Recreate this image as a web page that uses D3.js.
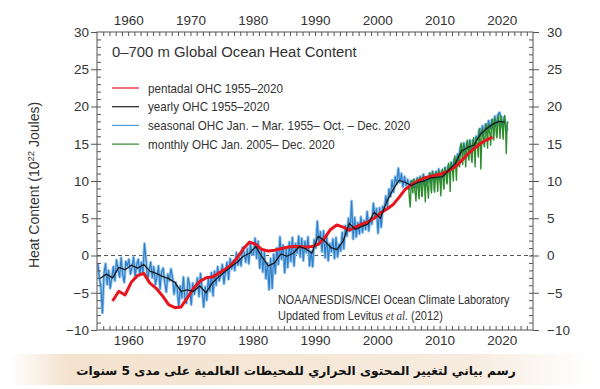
<!DOCTYPE html>
<html>
<head>
<meta charset="utf-8">
<script src="https://cdn.jsdelivr.net/npm/d3@7"></script>
<style>
  body{margin:0;background:#fff;}
  svg{display:block;}
  text{font-family:"Liberation Sans",Arial,sans-serif;fill:#333;}
</style>
</head>
<body>
<svg id="chart" width="600" height="389"></svg>
<script>
// pentadal OHC, centres 1957.5 .. 2018.5
var pentadal=[-6.1,-4.8,-5.3,-3.6,-2.7,-2.4,-3.7,-4.4,-5.4,-6.6,
	-7.0,-6.9,-5.7,-4.4,-3.5,-3.0,-2.9,-2.4,-1.9,-1.3,
	-0.3,0.9,1.8,1.5,0.8,0.6,0.7,0.9,1.1,1.2,
	1.2,1.1,1.2,1.5,2.3,3.5,4.1,3.8,3.4,3.8,
	4.2,4.5,5.0,5.7,6.2,6.8,7.8,8.9,9.5,10.0,
	10.4,10.6,10.8,11.0,11.4,11.9,12.7,13.6,14.3,15.0,
	15.5,15.9];
var pentadalStart=1957;

// yearly OHC 1955 .. 2020
var yearly=[-3.1,-2.5,-3.0,-1.6,-1.9,-1.3,-1.7,-1.2,-2.1,-2.4,
	-2.8,-3.1,-3.6,-4.8,-4.6,-4.8,-4.1,-5.0,-3.7,-2.9,
	-2.2,-1.5,-0.9,-0.1,0.3,1.2,-0.2,-1.4,-1.0,0.2,
	-0.1,0.3,1.2,0.9,0.3,2.6,2.0,1.1,0.8,1.9,
	4.3,3.5,3.9,4.2,5.8,5.0,7.2,8.8,10.1,9.8,
	9.4,9.8,10.0,10.4,10.5,10.6,11.5,12.3,14.0,14.5,
	14.8,16.2,17.0,17.6,18.0,17.9];
var yearlyStart=1955;

// seasonal OHC, one row of four quarters per year, 1955 .. 2020
var seasonal=[
	[-1.0,-2.9,-4.2,-7.7],[-2.4,-1.1,-3.9,-2.0],[-4.4,-3.0,-1.5,-3.4],[-0.6,-1.8,-2.9,-0.3],
	[-2.6,-3.6,-0.8,-1.4],[-0.5,-2.5,-1.6,-0.2],[-2.9,-1.2,-0.5,-2.6],[-0.9,-2.4,1.6,-0.6],
	[-3.3,-2.0,-0.9,-3.0],[-1.5,-3.9,-2.9,-1.4],[-4.5,-2.2,-1.7,-3.6],[-4.9,-2.5,-3.4,-1.8],
	[-2.9,-5.2,-3.6,-4.4],[-6.9,-4.1,-5.7,-2.9],[-5.9,-6.4,-3.0,-4.0],[-6.6,-3.7,-5.2,-4.3],
	[-3.0,-5.5,-2.4,-4.6],[-6.9,-4.2,-6.0,-3.0],[-4.8,-2.3,-5.4,-2.1],[-4.0,-1.5,-3.4,-2.6],
	[-1.2,-3.8,-2.1,-0.9],[-3.2,-0.4,-1.8,-0.7],[-2.0,0.4,-1.3,-0.3],[-1.4,1.1,0.3,-0.9],
	[0.9,-1.1,1.7,0.2],[0.1,2.3,-0.4,1.9],[-1.7,0.8,-2.2,0.4],[-3.1,-1.0,-4.6,-0.4],
	[-4.4,0.2,-2.4,1.0],[-1.2,2.5,-0.5,1.4],[-2.3,0.9,-1.6,1.8],[-0.8,2.4,-1.4,1.6],
	[0.3,2.6,-0.2,2.3],[-0.7,1.9,0.4,2.5],[-1.4,0.6,-1.5,2.1],[1.0,4.6,1.5,3.2],
	[0.5,3.3,-0.3,2.6],[-0.7,1.6,0.5,2.2],[-0.4,2.4,-0.2,1.5],[0.6,3.1,0.9,4.0],
	[2.6,5.0,3.3,7.3],[2.2,5.1,2.5,4.4],[2.9,5.2,3.1,4.7],[3.5,5.9,3.3,5.0],
	[4.2,7.0,5.1,6.3],[3.0,6.4,3.8,6.6],[6.2,8.0,6.6,8.9],[7.9,10.1,8.5,10.6],
	[9.6,11.7,9.8,11.0],[9.2,10.6,9.4,10.2],[8.9,10.0,9.3,10.1],[9.1,10.4,9.6,10.6],
	[9.5,10.9,9.7,10.5],[9.8,11.0,10.2,11.3],[9.9,11.2,10.3,11.6],[10.1,11.3,10.4,11.8],
	[10.9,12.0,11.3,12.5],[11.8,13.0,12.1,13.6],[13.4,14.7,13.8,15.1],[13.9,15.2,14.3,15.5],
	[14.2,15.4,14.6,16.0],[15.6,16.9,16.1,17.4],[16.4,17.6,16.8,18.1],[17.0,18.2,17.5,18.7],
	[17.5,18.9,19.2,18.6],[17.3,18.6,17.6,16.8]
];
var seasonalStart=1955;

// monthly OHC, one row of twelve months per year, 2005 .. 2020
var monthly=[
	[9.2,8.0,7.1,6.5,8.3,9.6,10.1,9.3,8.4,9.9,10.3,9.4],
	[8.6,8.1,7.3,8.9,9.5,10.4,9.6,8.2,7.6,9.2,10.5,9.8],
	[9.4,8.1,7.9,9.1,10.2,10.7,9.7,8.9,7.2,9.6,10.6,10.0],
	[9.3,8.6,7.7,9.5,10.4,11.1,10.6,8.8,8.4,10.1,11.2,10.5],
	[10.2,8.8,8.5,9.9,10.8,11.3,10.3,9.6,8.6,10.4,11.4,10.8],
	[10.1,9.3,8.0,10.0,11.3,11.6,11.1,9.3,8.9,10.7,11.8,11.1],
	[11.1,9.8,9.6,10.5,12.1,12.4,11.5,10.7,8.6,11.5,12.5,11.9],
	[11.6,11.1,10.0,11.9,12.7,13.4,12.3,11.5,10.1,12.3,13.3,12.7],
	[13.3,12.0,11.9,13.0,14.8,15.1,14.2,13.3,12.2,14.1,15.0,14.4],
	[13.6,12.9,11.9,13.8,14.8,15.5,14.9,13.1,12.8,14.0,15.4,14.7],
	[14.3,12.8,12.5,13.7,15.5,15.8,14.8,13.7,11.9,14.7,15.9,15.2],
	[15.1,14.4,13.2,15.3,16.4,17.1,15.0,11.6,13.9,15.5,17.0,16.4],
	[16.2,14.9,14.6,15.6,17.4,17.7,16.8,15.6,14.4,16.7,17.6,17.0],
	[16.5,16.0,14.8,16.6,17.6,18.3,17.8,15.8,15.5,16.9,18.4,17.7],
	[17.4,16.1,15.8,16.8,18.6,18.9,18.1,17.0,15.7,17.8,18.7,18.1],
	[17.3,16.6,15.6,17.4,18.3,18.8,17.8,16.3,13.7,16.2,17.6,18.0]
];
var monthlyStart=2005;

var xTicks=[1960,1970,1980,1990,2000,2010,2020];
var yTicks=[-10,-5,0,5,10,15,20,25,30];

var legendItems=[
	{label:"pentadal OHC 1955\u20132020",color:"#e8141e"},
	{label:"yearly OHC 1955\u20132020",color:"#222"},
	{label:"seasonal OHC Jan. \u2013 Mar. 1955\u2013 Oct. \u2013 Dec. 2020",color:"#4c9ad8"},
	{label:"monthly OHC Jan. 2005\u2013 Dec. 2020",color:"#2d8c2d"}
];

var caption="رسم بياني لتغيير المحتوى الحراري للمحيطات العالمية على مدى 5 سنوات";

//////////////// build point lists
var pentadalPts=pentadal.map(function(v,i){return [pentadalStart+i+0.5,v];});
var yearlyPts=yearly.map(function(v,i){return [yearlyStart+i+0.5,v];});
var seasonalPts=[];
seasonal.forEach(function(row,i){
	row.forEach(function(v,q){seasonalPts.push([seasonalStart+i+(q*3+1.5)/12,v]);});
});
var monthlyPts=[];
monthly.forEach(function(row,i){
	row.forEach(function(v,m){monthlyPts.push([monthlyStart+i+(m+0.5)/12,v]);});
});

var svg=d3.select("#chart");
var plotL=97,plotR=533,plotT=32,plotB=330;   //plot box edges

var x=d3.scaleLinear().domain([1955,2025]).range([plotL,plotR]);
var y=d3.scaleLinear().domain([-10,30]).range([plotB,plotT]);

//caption band
var defs=svg.append("defs");
var grad=defs.append("linearGradient").attr("id","band");
grad.append("stop").attr("offset","0%").attr("stop-color","#fff");
grad.append("stop").attr("offset","10%").attr("stop-color","#f3e2cd");
grad.append("stop").attr("offset","80%").attr("stop-color","#f7ece0");
grad.append("stop").attr("offset","100%").attr("stop-color","#fff");
svg.append("rect").attr("x",10).attr("y",354).attr("width",580).attr("height",31)
	.attr("fill","url(#band)");

var cap=svg.append("text")
	.attr("x",296).attr("y",375)
	.attr("text-anchor","middle")
	.attr("direction","rtl")
	.style("font-family","'DejaVu Sans',sans-serif")
	.style("font-weight","bold")
	.style("font-size","14px")
	.style("fill","#111")
	.text(caption);
var capW=cap.node().getComputedTextLength();
cap.style("font-size",(14*440/capW).toFixed(2)+"px");

//clip for data
defs.append("clipPath").attr("id","plotClip").append("rect")
	.attr("x",plotL).attr("y",plotT).attr("width",plotR-plotL).attr("height",plotB-plotT);

//zero line
svg.append("line")
	.attr("x1",plotL).attr("x2",plotR).attr("y1",y(0)).attr("y2",y(0))
	.attr("stroke","#555").attr("stroke-width",1).attr("stroke-dasharray","4,3");

var line=d3.line().x(function(d){return x(d[0]);}).y(function(d){return y(d[1]);});
var plot=svg.append("g").attr("clip-path","url(#plotClip)");

plot.append("path").datum(seasonalPts).attr("d",line)
	.attr("fill","none").attr("stroke","#9cc8ee").attr("stroke-width",3).attr("stroke-linejoin","round");
plot.append("path").datum(seasonalPts).attr("d",line)
	.attr("fill","none").attr("stroke","#2f7fc8").attr("stroke-width",1.2).attr("stroke-linejoin","round");
plot.append("path").datum(monthlyPts).attr("d",line)
	.attr("fill","none").attr("stroke","#2d8c2d").attr("stroke-width",1.4).attr("stroke-linejoin","round");
plot.append("path").datum(pentadalPts).attr("d",line)
	.attr("fill","none").attr("stroke","#e8141e").attr("stroke-width",3).attr("stroke-linejoin","round");
plot.append("path").datum(yearlyPts).attr("d",line)
	.attr("fill","none").attr("stroke","#1a1a1a").attr("stroke-width",1.3).attr("stroke-linejoin","round");

//frame
svg.append("rect").attr("x",plotL).attr("y",plotT).attr("width",plotR-plotL).attr("height",plotB-plotT)
	.attr("fill","none").attr("stroke","#555").attr("stroke-width",1);

//////////////// axes
function styleAxis(g){
	g.select(".domain").remove();
	g.selectAll("line").attr("stroke","#555");
	g.selectAll("text").style("font-family","'Liberation Sans',Arial,sans-serif")
		.style("font-size","13.5px").attr("fill","#333");
}
function minusSign(d){return d<0 ? "\u2212"+Math.abs(d) : String(d);}
var yearTicks=d3.range(1956,2025);
var minorY=d3.range(-9,30);

//top
svg.append("g").attr("transform","translate(0,"+plotT+")")
	.call(d3.axisBottom(x).tickValues(yearTicks).tickSize(4).tickFormat(""))
	.call(styleAxis);
svg.append("g").attr("transform","translate(0,"+plotT+")")
	.call(d3.axisTop(x).tickValues(xTicks).tickSize(0).tickPadding(7).tickFormat(d3.format("d")))
	.call(styleAxis);
//bottom
svg.append("g").attr("transform","translate(0,"+plotB+")")
	.call(d3.axisTop(x).tickValues(yearTicks).tickSize(4).tickFormat(""))
	.call(styleAxis);
svg.append("g").attr("transform","translate(0,"+plotB+")")
	.call(d3.axisBottom(x).tickValues(xTicks).tickSize(0).tickPadding(5).tickFormat(d3.format("d")))
	.call(styleAxis);
//left
svg.append("g").attr("transform","translate("+plotL+",0)")
	.call(d3.axisRight(y).tickValues(minorY).tickSize(4).tickFormat(""))
	.call(styleAxis);
svg.append("g").attr("transform","translate("+plotL+",0)")
	.call(d3.axisLeft(y).tickValues(yTicks).tickSize(6).tickPadding(2).tickFormat(minusSign))
	.call(styleAxis);
//right
svg.append("g").attr("transform","translate("+plotR+",0)")
	.call(d3.axisLeft(y).tickValues(minorY).tickSize(4).tickFormat(""))
	.call(styleAxis);
svg.append("g").attr("transform","translate("+plotR+",0)")
	.call(d3.axisRight(y).tickValues(yTicks).tickSize(6).tickPadding(8).tickFormat(minusSign))
	.call(styleAxis);

//y label
var yl=svg.append("text")
	.attr("transform","translate(39,185) rotate(-90)")
	.attr("text-anchor","middle")
	.style("font-size","14px");
yl.append("tspan").text("Heat Content (10");
yl.append("tspan").attr("dy",-5).style("font-size","9.5px").text("22");
yl.append("tspan").attr("dy",5).text(" Joules)");

//title
svg.append("text").attr("transform","translate(112,57) scale(0.96,1)")
	.style("font-size","15.5px").text("0\u2013700 m Global Ocean Heat Content");

//legend
var leg=svg.selectAll(".leg").data(legendItems).enter().append("g")
	.attr("class","leg")
	.attr("transform",function(d,i){return "translate(112,"+(88+i*18.7)+")";});
leg.append("line").attr("x1",0).attr("x2",27).attr("y1",0).attr("y2",0)
	.attr("stroke",function(d){return d.color;}).attr("stroke-width",1.2);
leg.append("text").attr("transform","translate(36,4.5) scale(0.93,1)").style("font-size","12.5px")
	.text(function(d){return d.label;});

//credit
svg.append("text").attr("transform","translate(278,304) scale(0.9,1)").style("font-size","12px")
	.text("NOAA/NESDIS/NCEI Ocean Climate Laboratory");
var cr=svg.append("text").attr("transform","translate(278,320) scale(0.92,1)").style("font-size","12px");
cr.append("tspan").text("Updated from Levitus ");
cr.append("tspan").style("font-family","'Liberation Serif',serif").style("font-style","italic").text("et al.");
cr.append("tspan").text(" (2012)");
</script>
</body>
</html>
